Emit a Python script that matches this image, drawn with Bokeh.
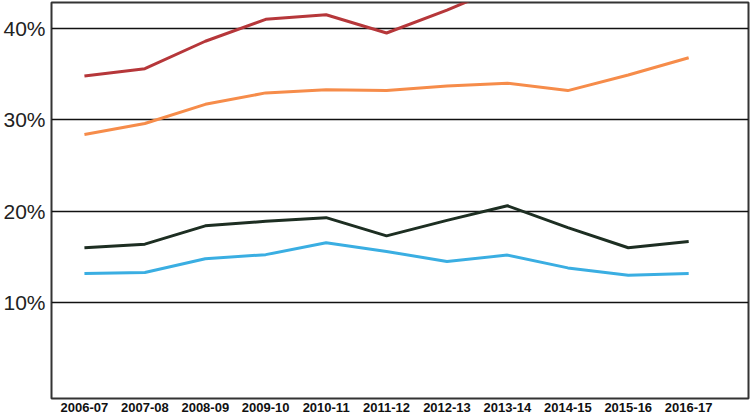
from bokeh.plotting import figure
from bokeh.models import FixedTicker, Range1d, PrintfTickFormatter
from bokeh.embed import file_html
from bokeh.resources import INLINE

years = ["2006-07", "2007-08", "2008-09", "2009-10", "2010-11", "2011-12",
         "2012-13", "2013-14", "2014-15", "2015-16", "2016-17"]
red = [34.8, 35.6, 38.6, 41.0, 41.5, 39.5, 42.0, 44.8]
orange = [28.4, 29.6, 31.7, 32.95, 33.3, 33.2, 33.7, 34.0, 33.2, 34.9, 36.8]
dark = [16.0, 16.4, 18.4, 18.9, 19.3, 17.3, 19.0, 20.6, 18.2, 16.0, 16.7]
blue = [13.2, 13.3, 14.8, 15.25, 16.55, 15.6, 14.5, 15.2, 13.8, 13.0, 13.2]
y_ticks = [10, 20, 30, 40]

xs = list(range(len(years)))

p = figure(width=750, height=417, output_backend="svg", toolbar_location=None,
           x_range=Range1d(-0.545, 10.99), y_range=Range1d(-0.49, 42.84),
           min_border_left=49, min_border_right=2, min_border_top=2, min_border_bottom=19)

p.outline_line_color = "#333333"
p.outline_line_width = 2
p.background_fill_color = "white"
p.border_fill_color = "white"

p.line(xs[:len(red)], red, line_color="#b6373a", line_width=3)
p.line(xs, orange, line_color="#f68c4a", line_width=3)
p.line(xs, dark, line_color="#1d2e22", line_width=3)
p.line(xs, blue, line_color="#3aaee2", line_width=3)

p.xgrid.visible = False
p.ygrid.ticker = FixedTicker(ticks=y_ticks)
p.ygrid.grid_line_color = "#111111"
p.ygrid.grid_line_width = 1.5

p.yaxis.ticker = FixedTicker(ticks=y_ticks)
p.yaxis.formatter = PrintfTickFormatter(format="%d%%")
p.yaxis.axis_line_color = None
p.yaxis.major_tick_line_color = None
p.yaxis.minor_tick_line_color = None
p.yaxis.major_tick_out = 0
p.yaxis.major_tick_in = 0
p.yaxis.major_label_text_font = "Liberation Sans"
p.yaxis.major_label_text_font_size = "21px"
p.yaxis.major_label_text_color = "#222222"
p.yaxis.major_label_standoff = 6

p.xaxis.ticker = FixedTicker(ticks=xs)
p.xaxis.major_label_overrides = {i: y for i, y in enumerate(years)}
p.xaxis.axis_line_color = None
p.xaxis.major_tick_line_color = None
p.xaxis.minor_tick_line_color = None
p.xaxis.major_tick_out = 0
p.xaxis.major_tick_in = 0
p.xaxis.major_label_text_font = "Liberation Sans"
p.xaxis.major_label_text_font_size = "13px"
p.xaxis.major_label_text_font_style = "bold"
p.xaxis.major_label_text_color = "#111111"
p.xaxis.major_label_standoff = 4

open("out.html", "w").write(file_html(p, INLINE))
